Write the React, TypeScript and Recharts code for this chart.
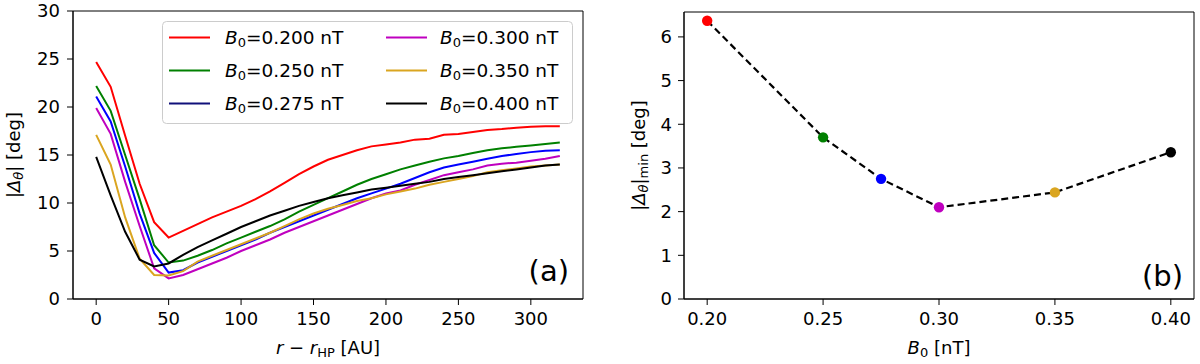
import React from 'react';
import { LineChart, Line, XAxis, YAxis, ReferenceArea } from 'recharts';

const FONT = "'DejaVu Sans', sans-serif";

// Panel (a): distance from heliopause [AU]
const rValues = [0, 10, 20, 30, 40, 50, 60, 70, 80, 90, 100, 110, 120, 130, 140, 150, 160, 170, 180, 190, 200, 210, 220, 230, 240, 250, 260, 270, 280, 290, 300, 310, 320];
const rTicks = [0, 50, 100, 150, 200, 250, 300];
const dTicks = [0, 5, 10, 15, 20, 25, 30];

const b200 = [24.7, 22.1, 17.0, 12.0, 8.0, 6.4, 7.1, 7.8, 8.5, 9.1, 9.7, 10.4, 11.2, 12.1, 13.0, 13.8, 14.5, 15.0, 15.5, 15.9, 16.1, 16.3, 16.6, 16.7, 17.1, 17.2, 17.4, 17.6, 17.7, 17.85, 17.95, 18.0, 18.0];
const b250 = [22.2, 19.6, 15.0, 10.4, 5.6, 3.8, 4.0, 4.5, 5.1, 5.8, 6.4, 7.0, 7.6, 8.3, 9.1, 9.8, 10.5, 11.2, 11.9, 12.5, 13.0, 13.5, 13.9, 14.3, 14.65, 14.9, 15.2, 15.5, 15.7, 15.85, 16.0, 16.15, 16.3];
const b275 = [21.1, 18.5, 13.8, 8.9, 4.8, 2.75, 3.0, 3.8, 4.4, 5.0, 5.6, 6.2, 6.9, 7.5, 8.1, 8.7, 9.3, 9.9, 10.5, 11.0, 11.5, 12.0, 12.6, 13.2, 13.7, 14.0, 14.3, 14.6, 14.9, 15.1, 15.3, 15.45, 15.5];
const b300 = [19.9, 17.2, 12.2, 7.6, 3.2, 2.15, 2.5, 3.1, 3.7, 4.3, 5.0, 5.6, 6.2, 6.9, 7.5, 8.1, 8.7, 9.3, 9.9, 10.5, 11.0, 11.3, 11.9, 12.4, 12.9, 13.2, 13.5, 13.9, 14.1, 14.2, 14.4, 14.6, 14.9];
const b350 = [17.1, 14.0, 8.5, 4.2, 2.5, 2.45, 2.9, 3.9, 4.5, 5.1, 5.7, 6.3, 6.9, 7.6, 8.3, 8.9, 9.4, 9.8, 10.2, 10.5, 10.9, 11.2, 11.5, 11.9, 12.2, 12.5, 12.8, 13.2, 13.4, 13.6, 13.8, 13.9, 14.0];
const b400 = [14.8, 10.8, 7.0, 4.1, 3.4, 3.7, 4.6, 5.4, 6.1, 6.8, 7.5, 8.1, 8.7, 9.2, 9.7, 10.1, 10.5, 10.8, 11.1, 11.4, 11.6, 11.8, 12.0, 12.2, 12.5, 12.7, 12.9, 13.1, 13.3, 13.5, 13.7, 13.9, 14.0];

const seriesValues = [b200, b250, b275, b300, b350, b400];
const seriesLabels = ['0.200', '0.250', '0.275', '0.300', '0.350', '0.400'];
const seriesColors = ['#ff0000', '#008000', '#0000ff', '#bf00bf', '#daa520', '#000000'];
const legendColors = ['#ff0000', '#008000', '#10107a', '#bf00bf', '#daa520', '#000000'];

// Panel (b)
const bField = [0.2, 0.25, 0.275, 0.3, 0.35, 0.4];
const minDelta = [6.37, 3.7, 2.75, 2.1, 2.44, 3.36];
const bTicks = [0.2, 0.25, 0.3, 0.35, 0.4];
const mTicks = [0, 1, 2, 3, 4, 5, 6];

const tableA = rValues.map((r, i) => {
  const row: any = { r };
  seriesValues.forEach((s, k) => { row['s' + k] = s[i]; });
  return row;
});
const tableB = bField.map((b, i) => ({ b, m: minDelta[i], color: seriesColors[i] }));

const FS = 18;
const SUB = 13;
const tickStyle = { fontSize: FS, fill: '#000', fontFamily: FONT };

const XLabelA = (props: any) => {
  const vb = props.viewBox || { x: 73, y: 299, width: 510 };
  const cx = vb.x + vb.width / 2;
  return (
    <text x={cx} y={354} textAnchor="middle" fontFamily={FONT} fontSize={FS} fill="#000">
      <tspan fontStyle="italic">r</tspan>
      <tspan> − </tspan>
      <tspan fontStyle="italic">r</tspan>
      <tspan fontSize={SUB} dy={3}>HP</tspan>
      <tspan dy={-3}> [AU]</tspan>
    </text>
  );
};

const YLabelA = (props: any) => {
  const vb = props.viewBox || { x: 0, y: 11, width: 73, height: 288 };
  const cy = vb.y + vb.height / 2;
  const x = 20;
  return (
    <text x={x} y={cy} transform={`rotate(-90, ${x}, ${cy})`} textAnchor="middle" fontFamily={FONT} fontSize={FS} fill="#000">
      <tspan>|</tspan>
      <tspan fontStyle="italic">Δ</tspan>
      <tspan fontStyle="italic" fontSize={SUB} dy={3}>θ</tspan>
      <tspan dy={-3}>| [deg]</tspan>
    </text>
  );
};

const XLabelB = (props: any) => {
  const vb = props.viewBox || { x: 74, y: 299, width: 510 };
  const cx = vb.x + vb.width / 2;
  return (
    <text x={cx} y={354} textAnchor="middle" fontFamily={FONT} fontSize={FS} fill="#000">
      <tspan fontStyle="italic">B</tspan>
      <tspan fontSize={SUB} dy={3}>0</tspan>
      <tspan dy={-3}> [nT]</tspan>
    </text>
  );
};

const YLabelB = (props: any) => {
  const vb = props.viewBox || { x: 0, y: 12, width: 74, height: 287 };
  const cy = vb.y + vb.height / 2;
  const x = 35;
  return (
    <text x={x} y={cy} transform={`rotate(-90, ${x}, ${cy})`} textAnchor="middle" fontFamily={FONT} fontSize={FS} fill="#000">
      <tspan>|</tspan>
      <tspan fontStyle="italic">Δ</tspan>
      <tspan fontStyle="italic" fontSize={SUB} dy={3}>θ</tspan>
      <tspan dy={-3}>|</tspan>
      <tspan fontSize={SUB} dy={3}>min</tspan>
      <tspan dy={-3}> [deg]</tspan>
    </text>
  );
};

const ColoredDot = (props: any) => {
  const { cx, cy, index, payload } = props;
  if (cx == null || cy == null) return <g key={'d' + index} />;
  return <circle key={'d' + index} cx={cx} cy={cy} r={5.2} fill={payload.color} stroke="none" />;
};

const Legend = () => {
  const rows = [16.5, 49.5, 82.5];
  return (
    <svg width={412} height={104} style={{ position: 'absolute', left: 162, top: 21 }}>
      <rect x={0.5} y={0.5} width={410} height={102} rx={4} ry={4} fill="#fff" fillOpacity={0.85} stroke="#cccccc" />
      {seriesLabels.map((lab, i) => {
        const col = i < 3 ? 0 : 1;
        const y = rows[i % 3];
        const lx = col === 0 ? 7 : 224;
        const tx = col === 0 ? 63 : 278;
        return (
          <g key={lab}>
            <line x1={lx} x2={lx + 41} y1={y} y2={y} stroke={legendColors[i]} strokeWidth={2} />
            <text x={tx} y={y + 6.5} fontFamily={FONT} fontSize={18.5} fill="#000">
              <tspan fontStyle="italic">B</tspan>
              <tspan fontSize={13} dy={3}>0</tspan>
              <tspan dy={-3}>={lab} nT</tspan>
            </text>
          </g>
        );
      })}
    </svg>
  );
};

export default function App() {
  return (
    <div style={{ position: 'absolute', left: 0, top: 0, width: 1200, height: 364, background: '#fff' }}>
      <div style={{ position: 'absolute', left: 0, top: 0 }}>
        <LineChart width={600} height={364} data={tableA} margin={{ top: 11, right: 17, bottom: 0, left: 0 }}>
          <XAxis
            dataKey="r"
            type="number"
            domain={[-16, 336]}
            ticks={rTicks}
            allowDataOverflow
            height={65}
            tick={tickStyle}
            tickSize={6}
            tickMargin={7}
            axisLine={{ stroke: '#000' }}
            tickLine={{ stroke: '#000' }}
            label={<XLabelA />}
          />
          <YAxis
            type="number"
            domain={[0, 30]}
            ticks={dTicks}
            allowDataOverflow
            width={73}
            tick={tickStyle}
            tickSize={6}
            tickMargin={7}
            axisLine={{ stroke: '#000' }}
            tickLine={{ stroke: '#000' }}
            label={<YLabelA />}
          />
          {seriesValues.map((_, k) => (
            <Line
              key={'s' + k}
              dataKey={'s' + k}
              type="linear"
              stroke={seriesColors[k]}
              strokeWidth={2}
              dot={false}
              isAnimationActive={false}
            />
          ))}
          <ReferenceArea x1={-16} x2={336} y1={0} y2={30} fill="none" stroke="#000" strokeWidth={1} ifOverflow="visible" />
        </LineChart>
        <Legend />
        <div style={{ position: 'absolute', left: 519, top: 251, width: 50, textAlign: 'right', fontFamily: FONT, fontSize: 29, color: '#000', lineHeight: '40px' }}>(a)</div>
      </div>
      <div style={{ position: 'absolute', left: 610, top: 0 }}>
        <LineChart width={590} height={364} data={tableB} margin={{ top: 12, right: 6, bottom: 0, left: 0 }}>
          <XAxis
            dataKey="b"
            type="number"
            domain={[0.19, 0.41]}
            ticks={bTicks}
            allowDataOverflow
            height={65}
            tick={tickStyle}
            tickFormatter={(v: number) => v.toFixed(2)}
            tickSize={6}
            tickMargin={7}
            axisLine={{ stroke: '#000' }}
            tickLine={{ stroke: '#000' }}
            label={<XLabelB />}
          />
          <YAxis
            type="number"
            domain={[0, 6.57]}
            ticks={mTicks}
            allowDataOverflow
            width={74}
            tick={tickStyle}
            tickSize={6}
            tickMargin={6}
            axisLine={{ stroke: '#000' }}
            tickLine={{ stroke: '#000' }}
            label={<YLabelB />}
          />
          <Line
            dataKey="m"
            type="linear"
            stroke="#000"
            strokeWidth={2.2}
            strokeDasharray="7 4"
            dot={(p: any) => <ColoredDot {...p} key={'dot' + p.index} />}
            activeDot={false}
            isAnimationActive={false}
          />
          <ReferenceArea x1={0.19} x2={0.41} y1={0} y2={6.57} fill="none" stroke="#000" strokeWidth={1} ifOverflow="visible" />
        </LineChart>
        <div style={{ position: 'absolute', left: 521, top: 256, width: 52, textAlign: 'right', fontFamily: FONT, fontSize: 29, color: '#000', lineHeight: '40px' }}>(b)</div>
      </div>
    </div>
  );
}
